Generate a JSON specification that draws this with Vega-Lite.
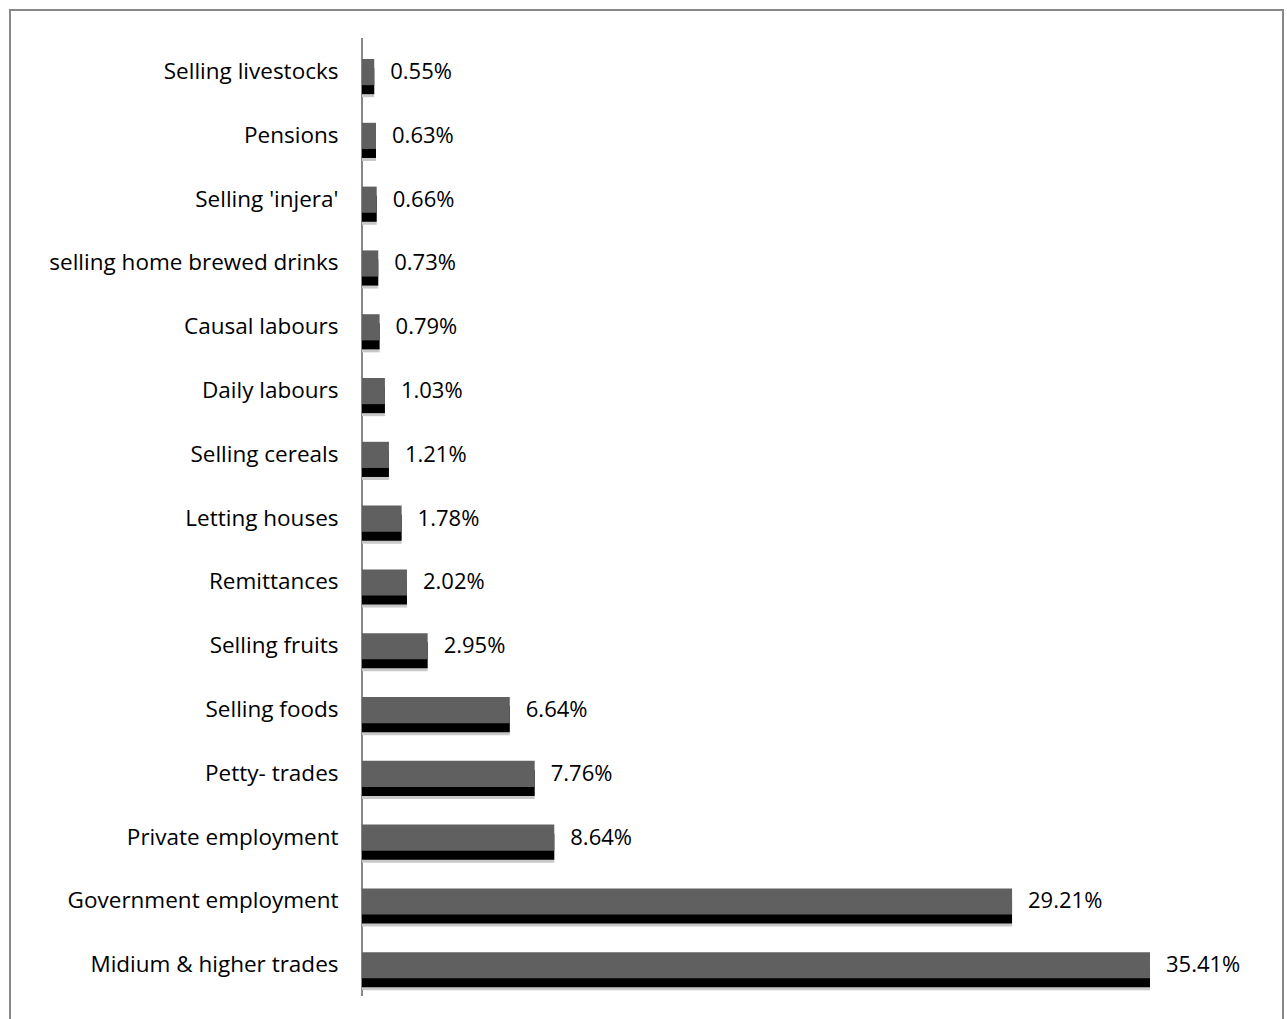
{
  "$schema": "https://vega.github.io/schema/vega-lite/v6.json",
  "width": 1273,
  "height": 1012,
  "autosize": "none",
  "padding": {"left": 10, "top": 10, "right": 4, "bottom": -3},
  "background": "white",
  "config": {
    "view": {"stroke": "#888888", "strokeWidth": 2},
    "font": "Open Sans"
  },
  "data": {
    "values": [
      {"source": "Selling livestocks", "pct": 0.55, "label": "0.55%"},
      {"source": "Pensions", "pct": 0.63, "label": "0.63%"},
      {"source": "Selling 'injera'", "pct": 0.66, "label": "0.66%"},
      {"source": "selling home brewed drinks", "pct": 0.73, "label": "0.73%"},
      {"source": "Causal labours", "pct": 0.79, "label": "0.79%"},
      {"source": "Daily labours", "pct": 1.03, "label": "1.03%"},
      {"source": "Selling cereals ", "pct": 1.21, "label": "1.21%"},
      {"source": "Letting houses", "pct": 1.78, "label": "1.78%"},
      {"source": "Remittances", "pct": 2.02, "label": "2.02%"},
      {"source": "Selling fruits", "pct": 2.95, "label": "2.95%"},
      {"source": "Selling foods", "pct": 6.64, "label": "6.64%"},
      {"source": "Petty- trades", "pct": 7.76, "label": "7.76%"},
      {"source": "Private employment", "pct": 8.64, "label": "8.64%"},
      {"source": "Government employment", "pct": 29.21, "label": "29.21%"},
      {"source": "Midium & higher trades", "pct": 35.41, "label": "35.41%"}
    ]
  },
  "encoding": {
    "y": {
      "field": "source",
      "type": "nominal",
      "sort": null,
      "title": null,
      "scale": {
        "domain": ["Selling livestocks", "Pensions", "Selling 'injera'", "selling home brewed drinks", "Causal labours", "Daily labours", "Selling cereals ", "Letting houses", "Remittances", "Selling fruits", "Selling foods", "Petty- trades", "Private employment", "Government employment", "Midium & higher trades"],
        "paddingInner": 0.59, "paddingOuter": 0.726, "align": 0.529
      },
      "axis": {
        "offset": -352,
        "ticks": false,
        "domain": false,
        "labelPadding": 24,
        "labelFontSize": 22.5,
        "labelColor": "#000000",
        "labelFont": "Open Sans",
        "labelLimit": 400
      }
    },
    "x": {
      "field": "pct",
      "type": "quantitative",
      "scale": {"domain": [-15.818, 41.386], "nice": false, "zero": false},
      "axis": null
    }
  },
  "layer": [
    {
      "mark": {"type": "rule", "color": "#888888", "strokeWidth": 1.5, "yOffset": -34, "y2Offset": 30},
      "encoding": {
        "x": {"datum": 0, "type": "quantitative"},
        "y": {"datum": "Selling livestocks", "type": "nominal"},
        "y2": {"datum": "Midium & higher trades"}
      }
    },
    {"mark": {"type": "bar", "color": "#c8c8c8", "yOffset": 12}},
    {"mark": {"type": "bar", "color": "#000000", "yOffset": 9}},
    {"mark": {"type": "bar", "color": "#606060"}},
    {
      "mark": {"type": "text", "align": "left", "baseline": "middle", "dx": 16, "fontSize": 22, "color": "#000000", "font": "Open Sans"},
      "encoding": {"text": {"field": "label", "type": "nominal"}}
    }
  ]
}
